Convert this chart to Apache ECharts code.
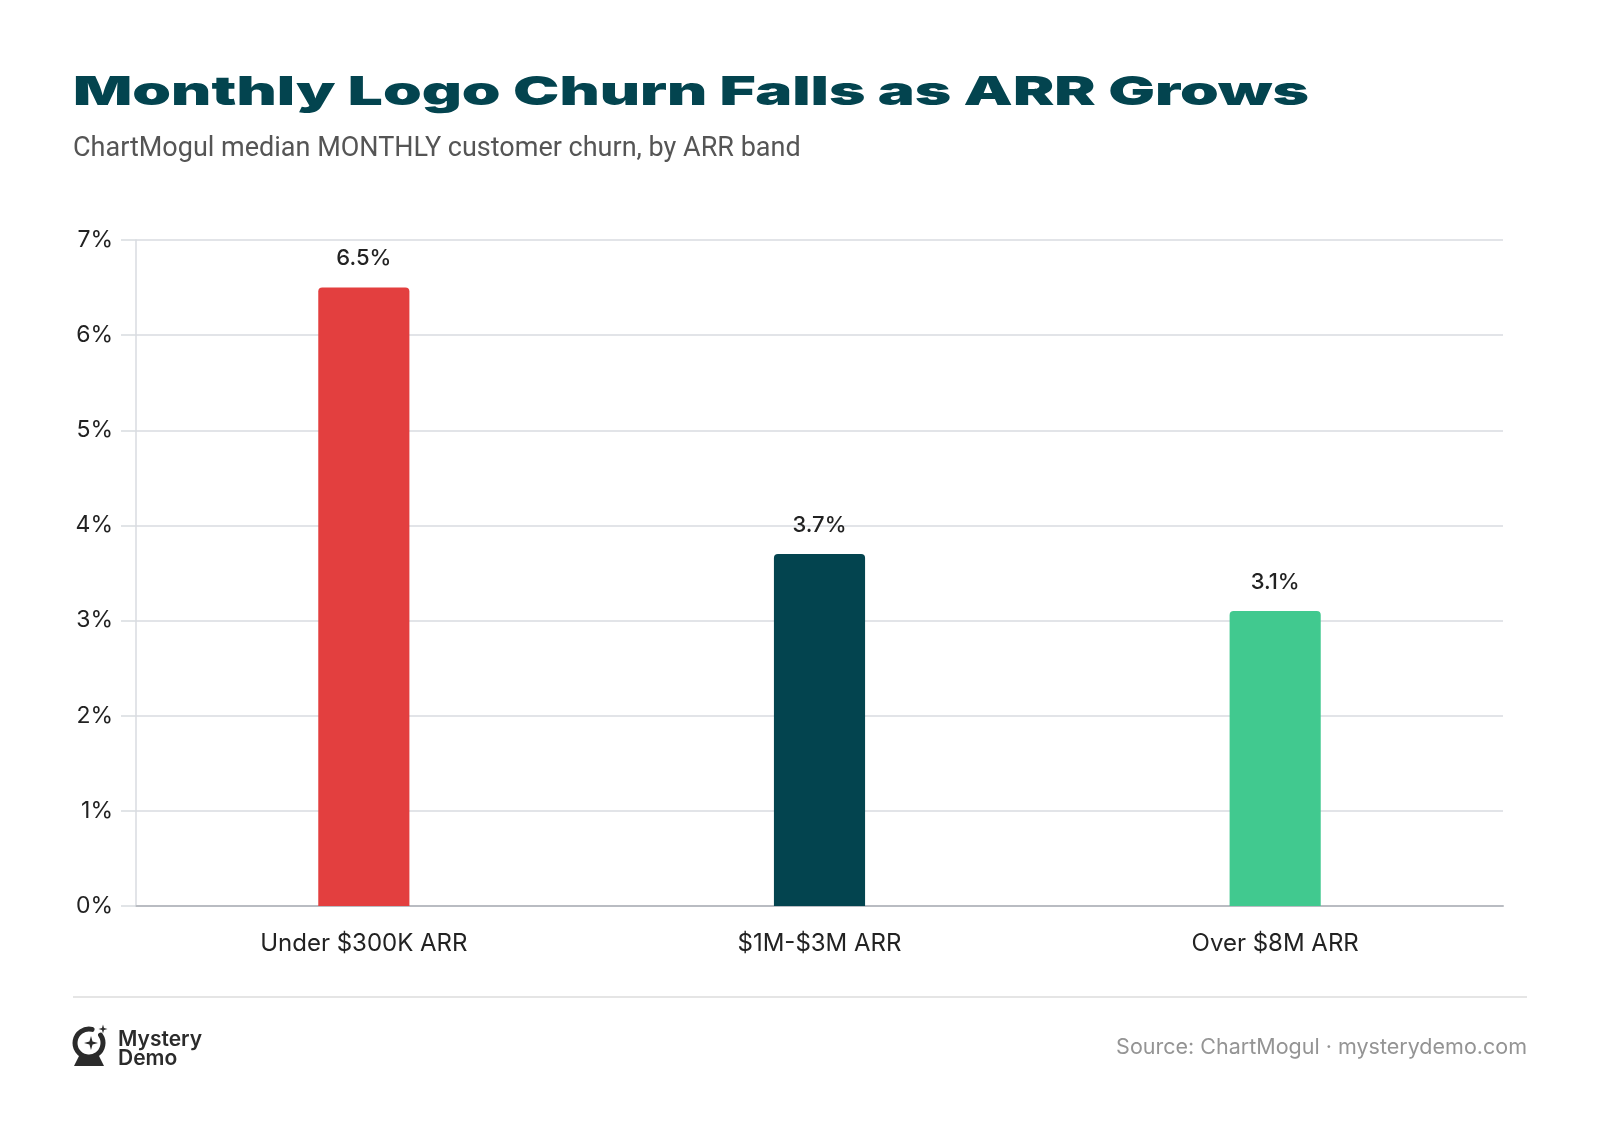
<!DOCTYPE html>
<html>
<head>
<meta charset="utf-8">
<script src="https://cdn.jsdelivr.net/npm/echarts@6/dist/echarts.min.js"></script>
<style>
  html, body { margin: 0; padding: 0; background: #fff; }
  #chart { width: 1600px; height: 1122px; }
</style>
</head>
<body>
<div id="chart"></div>
<script>
var categories = ['Under $300K ARR', '$1M-$3M ARR', 'Over $8M ARR']
var churnValues = [6.5, 3.7, 3.1]
var barColors = ['#E33F3F', '#03444F', '#41C98F']

var titleText = 'Monthly Logo Churn Falls as ARR Grows'
var subtitleText = 'ChartMogul median MONTHLY customer churn, by ARR band'
var sourceText = 'Source: ChartMogul · mysterydemo.com'

// stretch the title so it looks like the wide display face
function measure(text, font) {
  var ctx = document.createElement('canvas').getContext('2d')
  ctx.font = font
  return ctx.measureText(text).width
}
var titleFont = '900 40px Inter'
var titleScale = 1236 / measure(titleText, titleFont)

// 4-point sparkle as polygon
function sparkle(cx, cy, r) {
  var k = r * 0.22
  return [[cx, cy - r], [cx + k, cy - k], [cx + r, cy], [cx + k, cy + k],
          [cx, cy + r], [cx - k, cy + k], [cx - r, cy], [cx - k, cy - k]]
}

var myChart = echarts.init(document.getElementById('chart'))

var option = {
  backgroundColor: '#ffffff',
  animation: false,
  textStyle: { fontFamily: 'Inter' },
  grid: { left: 136, right: 97, top: 240, bottom: 216 },
  xAxis: {
    type: 'category',
    data: categories,
    axisLine: { lineStyle: { color: '#b9bcc2', width: 2 } },
    axisTick: { show: false },
    axisLabel: { color: '#222', fontSize: 24, margin: 26, fontFamily: 'Inter' }
  },
  yAxis: {
    type: 'value',
    min: 0,
    max: 7,
    interval: 1,
    axisLine: { show: true, lineStyle: { color: '#d8dbe0', width: 1.5 } },
    axisTick: { show: true, length: 15, lineStyle: { color: '#d8dbe0', width: 1.5 } },
    splitLine: { lineStyle: { color: '#d8dbe0', width: 1.5 } },
    axisLabel: { color: '#222', fontSize: 23, margin: 23, formatter: '{value}%', fontFamily: 'Inter' }
  },
  series: [{
    type: 'bar',
    barWidth: '20%',
    data: churnValues.map(function (v, i) {
      return { value: v, itemStyle: { color: barColors[i], borderRadius: [4, 4, 0, 0] } }
    }),
    label: {
      show: true,
      position: 'top',
      distance: 18,
      color: '#222',
      fontSize: 22,
      fontWeight: 500,
      fontFamily: 'Inter',
      formatter: function (p) { return p.value.toFixed(1) + '%' }
    }
  }],
  graphic: [
    {
      type: 'text', x: 73, y: 93, scaleX: titleScale, originX: 0,
      style: { text: titleText, font: titleFont, fill: '#03444F', verticalAlign: 'middle' }
    },
    {
      type: 'text', x: 73, y: 149,
      style: { text: subtitleText, font: '400 27px Roboto', fill: '#555555', verticalAlign: 'middle' }
    },
    {
      type: 'line',
      shape: { x1: 73, y1: 997, x2: 1527, y2: 997 },
      style: { stroke: '#dcdcdc', lineWidth: 1.5 }
    },
    // crystal ball logo
    {
      type: 'arc',
      shape: { cx: 89, cy: 1043, r: 14, startAngle: -0.6, endAngle: -1.35, clockwise: true },
      style: { stroke: '#2b2b2b', lineWidth: 5, fill: null, lineCap: 'round' }
    },
    {
      type: 'polygon',
      shape: { points: sparkle(91, 1043, 7) },
      style: { fill: '#2b2b2b' }
    },
    {
      type: 'polygon',
      shape: { points: sparkle(103, 1029, 4.5) },
      style: { fill: '#2b2b2b' }
    },
    {
      type: 'polygon',
      shape: { points: [[79, 1056], [99, 1056], [104, 1066], [74, 1066]] },
      style: { fill: '#2b2b2b' }
    },
    {
      type: 'text', x: 118, y: 1040,
      style: { text: 'Mystery', font: '600 21px Inter', fill: '#2b2b2b', verticalAlign: 'middle' }
    },
    {
      type: 'text', x: 118, y: 1059,
      style: { text: 'Demo', font: '600 21px Inter', fill: '#2b2b2b', verticalAlign: 'middle' }
    },
    {
      type: 'text', x: 1527, y: 1048,
      style: { text: sourceText, font: '400 21.5px Inter', fill: '#949494', align: 'right', verticalAlign: 'middle' }
    }
  ]
}

myChart.setOption(option, true)
</script>
</body>
</html>
